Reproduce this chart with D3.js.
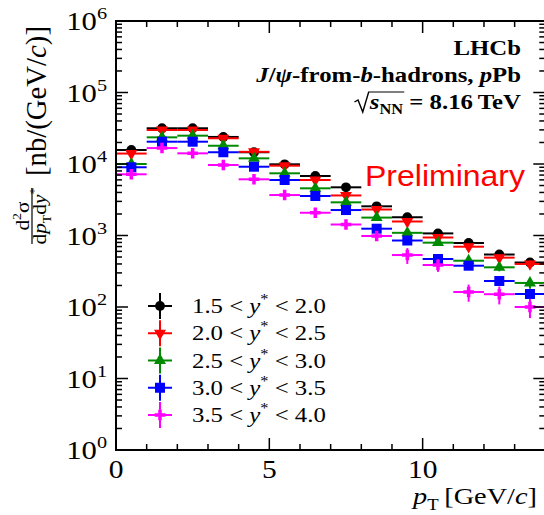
<!DOCTYPE html>
<html>
<head>
<meta charset="utf-8">
<script src="https://cdn.jsdelivr.net/npm/d3@7"></script>
<style>
  html, body { margin: 0; padding: 0; background: #fff; }
  svg { display: block; }
  text { font-family: "Liberation Serif", "Times New Roman", serif; fill: #000; }
</style>
</head>
<body>
<svg id="chart" width="544" height="515"></svg>
<script>
// ── DATA ─────────────────────────────────────────────────────────────────────
const ptEdges = [0, 1, 2, 3, 4, 5, 6, 7, 8, 9, 10, 11, 12, 13, 14];
const yLo = ['1.5', '2.0', '2.5', '3.0', '3.5'];
const yHi = ['2.0', '2.5', '3.0', '3.5', '4.0'];

// d2sigma/dpT dy* [nb/(GeV/c)] per pT bin
const xsec_15_20 = [15700, 31600, 31600, 23900, 14600, 9900, 6790, 4720, 2560, 1800, 1070, 785, 542, 419];
const xsec_20_25 = [14000, 29900, 29900, 22900, 14800, 9470, 5970, 3630, 2310, 1570, 938, 697, 490, 400];
const xsec_25_30 = [10000, 23600, 24900, 18000, 12000, 7410, 4570, 2910, 1780, 1090, 794, 444, 359, 217];
const xsec_30_35 = [9000, 20500, 20500, 14600, 9160, 5970, 3570, 2270, 1245, 851, 469, 378, 231, 152];
const xsec_35_40 = [7180, 16700, 14100, 9680, 6110, 3680, 2080, 1425, 984, 533, 387, 162, 151, 100];

// relative uncertainties
const err_15_20 = [0.05, 0.04, 0.04, 0.04, 0.04, 0.05, 0.05, 0.05, 0.06, 0.07, 0.08, 0.09, 0.10, 0.12];
const err_20_25 = [0.05, 0.04, 0.04, 0.04, 0.04, 0.05, 0.05, 0.05, 0.06, 0.07, 0.08, 0.09, 0.10, 0.12];
const err_25_30 = [0.05, 0.04, 0.04, 0.04, 0.05, 0.05, 0.05, 0.06, 0.07, 0.08, 0.09, 0.10, 0.12, 0.17];
const err_30_35 = [0.05, 0.04, 0.04, 0.05, 0.05, 0.05, 0.06, 0.07, 0.08, 0.09, 0.10, 0.11, 0.13, 0.14];
const err_35_40 = [0.04, 0.03, 0.03, 0.04, 0.05, 0.06, 0.08, 0.10, 0.15, 0.25, 0.20, 0.27, 0.28, 0.30];

const seriesColors = ['#000000', '#ff0000', '#008a00', '#0000ff', '#ff00ff'];
const seriesValues = [xsec_15_20, xsec_20_25, xsec_25_30, xsec_30_35, xsec_35_40];
const seriesErrors = [err_15_20, err_20_25, err_25_30, err_30_35, err_35_40];

const xMajorTicks = [0, 5, 10];
const yDecades = [0, 1, 2, 3, 4, 5, 6];

// ── SETUP ────────────────────────────────────────────────────────────────────
const svg = d3.select('#chart');
const SX = 1.18;   // the source picture is stretched horizontally

const frame = { left: 116, right: 545.3, top: 21, bottom: 450 };
const x = d3.scaleLinear().domain([0, 14]).range([frame.left, frame.right]);
const y = d3.scaleLog().domain([1, 1e6]).range([frame.bottom, frame.top]);

const markers = [
  { type: d3.symbolCircle,   size: 76, rot: 0 },
  { type: d3.symbolTriangle, size: 62, rot: 180 },
  { type: d3.symbolTriangle, size: 62, rot: 0 },
  { type: d3.symbolSquare,   size: 100, rot: 0 },
  { type: d3.symbolCross,    size: 62, rot: 0 }
];

// text helper: stretched group + tspans
function richText(parent, px, py, opts, parts) {
  const sx = opts.sx || SX;
  const g = parent.append('g')
    .attr('transform', `translate(${px},${py}) ${opts.rotate ? 'rotate(-90) scale(1,' + sx + ')' : 'scale(' + sx + ',1)'}`);
  const size = opts.size;
  const t = g.append('text')
    .attr('text-anchor', opts.anchor || 'start')
    .attr('font-size', size)
    .attr('font-weight', opts.weight || 'normal');
  let shift = 0;
  parts.forEach(p => {
    if (typeof p === 'string') p = { t: p };
    const s = p.sup ? -size * 0.42 : p.sub ? size * 0.25 : 0;
    const ts = t.append('tspan').text(p.t).attr('dy', s - shift);
    shift = s;
    if (p.sup || p.sub) ts.attr('font-size', size * 0.66);
    if (p.i) ts.attr('font-style', 'italic');
  });
  return { g, t };
}

// ── DATA POINTS ──────────────────────────────────────────────────────────────
const gData = svg.append('g');
seriesValues.forEach((vals, si) => {
  const col = seriesColors[si];
  const pts = vals.map((v, i) => ({ lo: ptEdges[i], hi: ptEdges[i + 1], v, e: seriesErrors[si][i] }));
  const gs = gData.append('g');

  gs.selectAll('line.h').data(pts).join('line')
    .attr('x1', d => x(d.lo)).attr('x2', d => x(d.hi))
    .attr('y1', d => y(d.v)).attr('y2', d => y(d.v))
    .attr('stroke', col).attr('stroke-width', 2);

  gs.selectAll('line.v').data(pts).join('line')
    .attr('x1', d => x((d.lo + d.hi) / 2)).attr('x2', d => x((d.lo + d.hi) / 2))
    .attr('y1', d => y(d.v * (1 + d.e))).attr('y2', d => y(d.v * (1 - d.e)))
    .attr('stroke', col).attr('stroke-width', 2);

  const m = markers[si];
  gs.selectAll('path').data(pts).join('path')
    .attr('d', d3.symbol().type(m.type).size(m.size))
    .attr('transform', d => `translate(${x((d.lo + d.hi) / 2)},${y(d.v)}) rotate(${m.rot})`)
    .attr('fill', col);
});

// ── FRAME & TICKS ────────────────────────────────────────────────────────────
const gAxes = svg.append('g').attr('stroke', '#000').attr('fill', 'none');
gAxes.append('rect')
  .attr('x', frame.left).attr('y', frame.top)
  .attr('width', frame.right - frame.left).attr('height', frame.bottom - frame.top)
  .attr('stroke-width', 2);

const xTicks = d3.range(0, 15);
xTicks.forEach(t => {
  const len = xMajorTicks.includes(t) ? 12 : 6;
  gAxes.append('line').attr('x1', x(t)).attr('x2', x(t))
    .attr('y1', frame.bottom).attr('y2', frame.bottom - len).attr('stroke-width', 1.5);
  gAxes.append('line').attr('x1', x(t)).attr('x2', x(t))
    .attr('y1', frame.top).attr('y2', frame.top + len).attr('stroke-width', 1.5);
});

const yTicks = [];
yDecades.forEach(k => {
  yTicks.push({ v: Math.pow(10, k), major: true });
  if (k < 6) for (let m = 2; m <= 9; m++) yTicks.push({ v: m * Math.pow(10, k), major: false });
});
yTicks.forEach(t => {
  const len = t.major ? 12 : 6;
  gAxes.append('line').attr('x1', frame.left).attr('x2', frame.left + len)
    .attr('y1', y(t.v)).attr('y2', y(t.v)).attr('stroke-width', 1.5);
  gAxes.append('line').attr('x1', frame.right).attr('x2', frame.right - len)
    .attr('y1', y(t.v)).attr('y2', y(t.v)).attr('stroke-width', 1.5);
});

// ── TICK LABELS ──────────────────────────────────────────────────────────────
xMajorTicks.forEach(t => {
  richText(svg, x(t), 478, { size: 25, anchor: 'middle' }, [String(t)]);
});
yDecades.forEach(k => {
  richText(svg, 107, y(Math.pow(10, k)) + 9, { size: 26, anchor: 'end' }, ['10', { t: String(k), sup: true }]);
});

// ── AXIS TITLES ──────────────────────────────────────────────────────────────
richText(svg, 537, 504, { size: 24, anchor: 'end' },
  [{ t: 'p', i: true }, { t: 'T', sub: true }, '\u2009[GeV/', { t: 'c', i: true }, ']']);

const yTitle = richText(svg, 46, 26, { size: 29, anchor: 'end', rotate: true, sx: 1.05 },
  ['[nb/(GeV/', { t: 'c', i: true }, ')]']);
yTitle.t.attr('textLength', 150).attr('lengthAdjust', 'spacingAndGlyphs');

// fraction d2sigma / dpT dy*
const frac = svg.append('g').attr('transform', `translate(32,216) rotate(-90)`);
frac.append('line').attr('x1', -28).attr('x2', 28).attr('y1', 0).attr('y2', 0)
  .attr('stroke', '#000').attr('stroke-width', 1.2);
richText(frac, 0, -3, { size: 18, anchor: 'middle' }, ['d', { t: '2', sup: true }, 'σ']);
richText(frac, 0, 14, { size: 18, anchor: 'middle' },
  ['d', { t: 'p', i: true }, { t: 'T', sub: true }, 'd', { t: 'y', i: true }, { t: '*', sup: true }]);

// ── LABELS ───────────────────────────────────────────────────────────────────
richText(svg, 521, 55, { size: 21, anchor: 'end', weight: 'bold' }, ['LHCb']);
richText(svg, 521, 82, { size: 21, anchor: 'end', weight: 'bold' },
  [{ t: 'J', i: true }, '/', { t: 'ψ', i: true }, '-from-', { t: 'b', i: true }, '-hadrons, ',
   { t: 'p', i: true }, 'Pb']);

const sq = richText(svg, 521, 109, { size: 21, anchor: 'end', weight: 'bold' },
  [{ t: 's', i: true }, { t: 'NN', sub: true }, ' = 8.16\u2009TeV']);
{
  const node = sq.t.node();
  const L = node.getComputedTextLength();
  const l = node.getSubStringLength(0, 3);
  const x0 = -L;
  sq.g.append('path')
    .attr('d', `M${x0 - 13},-7 L${x0 - 10},-9 L${x0 - 6},3 L${x0 - 1},-17 L${x0 + l + 1},-17`)
    .attr('fill', 'none').attr('stroke', '#000').attr('stroke-width', 1.2);
}

svg.append('text')
  .attr('x', 365).attr('y', 186)
  .style('font-family', '"Liberation Sans", Arial, sans-serif')
  .attr('font-size', 29)
  .attr('textLength', 160).attr('lengthAdjust', 'spacingAndGlyphs')
  .style('fill', '#ff0000')
  .text('Preliminary');

// ── LEGEND ───────────────────────────────────────────────────────────────────
const legendY = d3.scalePoint().domain(d3.range(5)).range([306, 415]);
const gLeg = svg.append('g');
yLo.forEach((lo, i) => {
  const cy = legendY(i), cx = 160, col = seriesColors[i], m = markers[i];
  gLeg.append('line').attr('x1', cx - 12).attr('x2', cx + 12).attr('y1', cy).attr('y2', cy)
    .attr('stroke', col).attr('stroke-width', 2);
  gLeg.append('line').attr('x1', cx).attr('x2', cx).attr('y1', cy - 13).attr('y2', cy + 13)
    .attr('stroke', col).attr('stroke-width', 2);
  gLeg.append('path').attr('d', d3.symbol().type(m.type).size(m.size))
    .attr('transform', `translate(${cx},${cy}) rotate(${m.rot})`).attr('fill', col);
  richText(svg, 192, cy + 7, { size: 21 },
    [lo + ' < ', { t: 'y', i: true }, { t: '*', sup: true }, ' < ' + yHi[i]]);
});
</script>
</body>
</html>
